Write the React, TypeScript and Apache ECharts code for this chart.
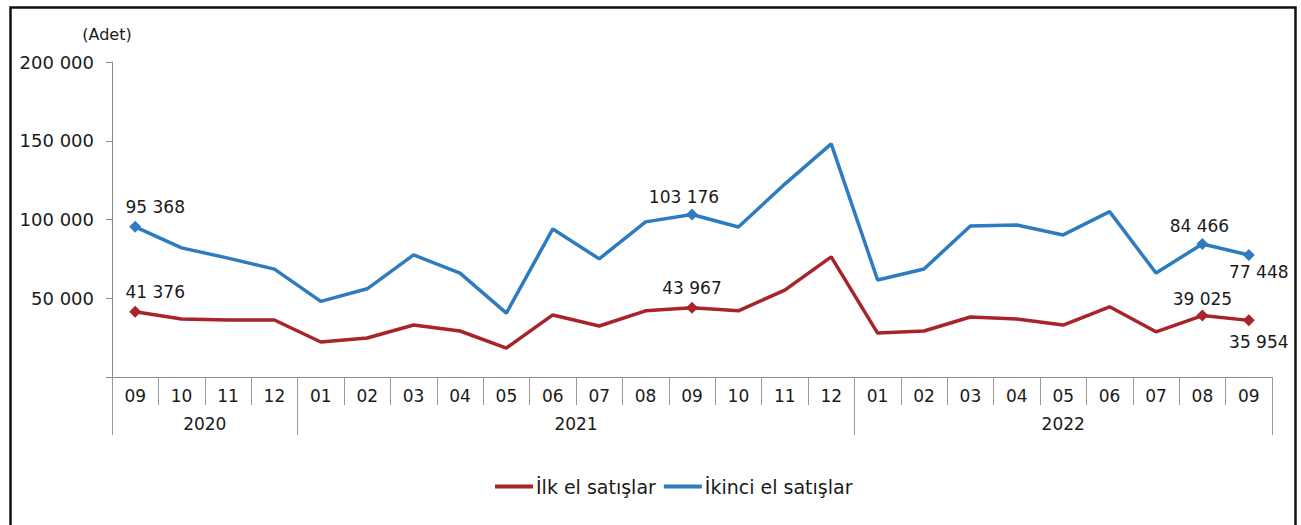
import React, { useEffect, useRef } from "react";
import * as echarts from "echarts";

const months = ["09","10","11","12","01","02","03","04","05","06","07","08","09","10","11","12","01","02","03","04","05","06","07","08","09"];
const years = ["2020", "2021", "2022"];
const yearStart = [0, 4, 16];
const yearEnd = [4, 16, 25];

const firstHand = [41376,36800,36200,36200,22200,24800,33000,29200,18400,39400,32400,42000,43967,42000,55200,76300,27900,29200,38100,36800,33000,44600,28700,39025,35954];
const secondHand = [95368,82000,75500,68500,48000,56000,77500,66000,40600,94000,75000,98500,103176,95200,122500,148000,61600,68600,95900,96500,90200,105000,66000,84466,77448];

const seriesNames = ["İlk el satışlar", "İkinci el satışlar"];
const yTicks = [0, 50000, 100000, 150000, 200000];

const fmt = (v: number) => String(Math.round(v)).replace(/\B(?=(\d{3})+(?!\d))/g, " ");

const FONT = "DejaVu Sans";
const TXT = "#1a1a1a";

type LabelCfg = { idx: number; pos: string; off: [number, number] };
const firstLabels: LabelCfg[] = [
  { idx: 0, pos: "top", off: [20, 0] },
  { idx: 12, pos: "top", off: [0, 0] },
  { idx: 23, pos: "top", off: [0, 3] },
  { idx: 24, pos: "bottom", off: [10, 2] },
];
const secondLabels: LabelCfg[] = [
  { idx: 0, pos: "top", off: [20, 0] },
  { idx: 12, pos: "top", off: [-8, 2] },
  { idx: 23, pos: "top", off: [-3, 2] },
  { idx: 24, pos: "bottom", off: [10, -3] },
];

function buildData(values: number[], labels: LabelCfg[]) {
  return values.map((v, i) => {
    const l = labels.find((x) => x.idx === i);
    if (!l) return { value: v, symbol: "none" };
    return {
      value: v,
      symbol: "diamond",
      symbolSize: 12,
      label: {
        show: true,
        position: l.pos,
        offset: l.off,
        formatter: (p: any) => fmt(p.value),
        fontFamily: FONT,
        fontSize: 17,
        color: TXT,
      },
    };
  });
}

export default function App() {
  const ref = useRef<HTMLDivElement>(null);
  useEffect(() => {
    document.body.style.margin = "0";
    const chart = echarts.init(ref.current!, undefined, { renderer: "svg" });
    const yearMid = yearStart.map((s, i) => (s + yearEnd[i]) / 2);
    chart.setOption({
      animation: false,
      backgroundColor: "#fff",
      textStyle: { fontFamily: FONT },
      grid: { left: 112, right: 29, top: 62, bottom: 148, containLabel: false },
      legend: {
        left: 490,
        top: 472,
        icon: "rect",
        itemWidth: 38,
        itemHeight: 4,
        itemGap: 8,
        textStyle: { fontFamily: FONT, fontSize: 19, color: TXT, padding: [0, 0, 0, -2] },
        data: seriesNames,
      },
      graphic: [
        {
          type: "rect",
          left: 8,
          top: 5,
          shape: { x: 0, y: 0, width: 1285, height: 540 },
          style: { fill: "none", stroke: "#111", lineWidth: 2.5 },
          silent: true,
        },
      ],
      xAxis: [
        {
          type: "category",
          data: months,
          boundaryGap: true,
          axisLine: { lineStyle: { color: "#8a8a8a", width: 1 } },
          axisTick: { show: true, interval: 0, length: 28, lineStyle: { color: "#9a9a9a" } },
          axisLabel: { interval: 0, margin: 10, fontFamily: FONT, fontSize: 17, color: TXT },
        },
        {
          type: "value",
          min: 0,
          max: 25,
          position: "bottom",
          axisLine: { show: false },
          splitLine: { show: false },
          axisTick: { show: true, customValues: [0, ...yearEnd], length: 58, lineStyle: { color: "#9a9a9a" } },
          axisLabel: {
            customValues: yearMid,
            margin: 38,
            fontFamily: FONT,
            fontSize: 17,
            color: TXT,
            formatter: (v: number) => {
              const i = yearMid.findIndex((m) => Math.abs(m - v) < 0.01);
              return i >= 0 ? years[i] : "";
            },
          },
        },
      ],
      yAxis: {
        type: "value",
        min: yTicks[0],
        max: yTicks[yTicks.length - 1],
        interval: 50000,
        name: "(Adet)",
        nameLocation: "end",
        nameGap: 20,
        nameTextStyle: { fontFamily: FONT, fontSize: 16, color: TXT, align: "center", padding: [0, 10, 0, 0] },
        axisLine: { show: true, lineStyle: { color: "#8a8a8a", width: 1 } },
        axisTick: { show: true, length: 6, lineStyle: { color: "#8a8a8a" } },
        splitLine: { show: false },
        axisLabel: {
          margin: 18,
          fontFamily: FONT,
          fontSize: 18,
          color: TXT,
          formatter: (v: number) => (v === 0 ? "" : fmt(v)),
        },
      },
      series: [
        {
          name: seriesNames[0],
          type: "line",
          xAxisIndex: 0,
          data: buildData(firstHand, firstLabels),
          lineStyle: { color: "#a8232a", width: 3.5 },
          itemStyle: { color: "#a8232a" },
          symbol: "diamond",
          z: 3,
        },
        {
          name: seriesNames[1],
          type: "line",
          xAxisIndex: 0,
          data: buildData(secondHand, secondLabels),
          lineStyle: { color: "#2e7bbf", width: 3.5 },
          itemStyle: { color: "#2e7bbf" },
          symbol: "diamond",
          z: 3,
        },
      ],
    });
    return () => chart.dispose();
  }, []);
  return <div ref={ref} style={{ width: 1301, height: 525 }} />;
}
